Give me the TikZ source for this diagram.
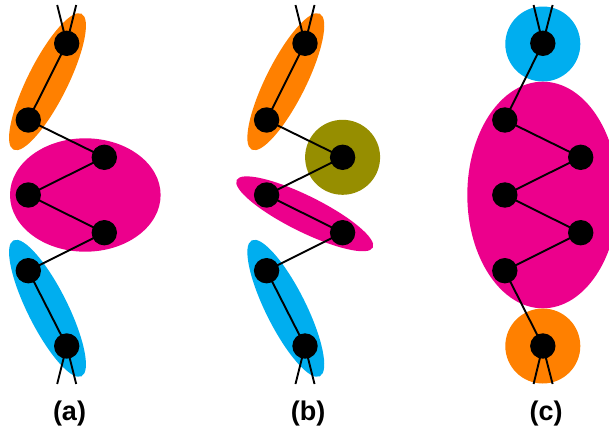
\documentclass[tikz,border=0pt]{standalone}
\usepackage{fontspec}
\setmainfont{Liberation Sans}
\usetikzlibrary{shapes.geometric}
\definecolor{myorange}{RGB}{255,128,0}
\definecolor{mypink}{RGB}{236,0,140}
\definecolor{myblue}{RGB}{0,174,239}
\definecolor{myolive}{RGB}{150,142,0}
\tikzset{
  vtx/.style={circle,fill=black,inner sep=0pt,minimum size=25.4pt},
  blob/.style={ellipse,inner sep=0pt,draw=none},
  edge/.style={line width=1.9pt,black},
  lbl/.style={font=\fontsize{27}{30}\selectfont\bfseries,inner sep=0pt}
}
\begin{document}
\begin{tikzpicture}[x=1pt,y=-1pt]
\useasboundingbox (0,0) rectangle (609,434);
\clip (0,0) rectangle (609,434);
% ---------- panel (a)
\node[blob,fill=myorange,minimum width=152pt,minimum height=40pt,rotate=63.4] (ea1) at (47.5,81.7) {};
\node[blob,fill=mypink,minimum width=150.6pt,minimum height=113.4pt] (ea2) at (85.3,195) {};
\node[blob,fill=myblue,minimum width=152pt,minimum height=40pt,rotate=-63.4] (ea3) at (47.5,308.3) {};
\coordinate (at1) at (57.2,5);
\coordinate (at2) at (76.2,5);
\coordinate (ab1) at (57.2,384);
\coordinate (ab2) at (76.2,384);
\path (66.7,43.3) coordinate (pa1) (28.3,120) coordinate (pa2) (104.3,157.3) coordinate (pa3)
      (28.3,195) coordinate (pa4) (104.3,232.7) coordinate (pa5) (28.3,270.7) coordinate (pa6)
      (66.7,346) coordinate (pa7);
\draw[edge] (at1) -- (pa1) -- (at2);
\draw[edge] (ab1) -- (pa7) -- (ab2);
\draw[edge] (pa1) -- (pa2) -- (pa3) -- (pa4) -- (pa5) -- (pa6) -- (pa7);
\foreach \i in {1,...,7} \node[vtx] (a\i) at (pa\i) {};
\node[lbl] (la) at (69.5,414) {(a)};
% ---------- panel (b)
\node[blob,fill=myorange,minimum width=152pt,minimum height=40pt,rotate=63.4] (eb1) at (285.8,81.7) {};
\node[circle,fill=myolive,inner sep=0pt,minimum size=75pt] (eb2) at (342.6,157.3) {};
\node[blob,fill=mypink,minimum width=152pt,minimum height=36pt,rotate=-26.4] (eb3) at (304.7,213.8) {};
\node[blob,fill=myblue,minimum width=152pt,minimum height=40pt,rotate=-63.4] (eb4) at (285.8,308.3) {};
\coordinate (bt1) at (295.5,5);
\coordinate (bt2) at (314.5,5);
\coordinate (bb1) at (295.5,384);
\coordinate (bb2) at (314.5,384);
\path (305,43.3) coordinate (pb1) (266.6,120) coordinate (pb2) (342.6,157.3) coordinate (pb3)
      (266.6,195) coordinate (pb4) (342.6,232.7) coordinate (pb5) (266.6,270.7) coordinate (pb6)
      (305,346) coordinate (pb7);
\draw[edge] (bt1) -- (pb1) -- (bt2);
\draw[edge] (bb1) -- (pb7) -- (bb2);
\draw[edge] (pb1) -- (pb2) -- (pb3) -- (pb4) -- (pb5) -- (pb6) -- (pb7);
\foreach \i in {1,...,7} \node[vtx] (b\i) at (pb\i) {};
\node[lbl] (lb) at (308,414) {(b)};
% ---------- panel (c)
\node[circle,fill=myblue,inner sep=0pt,minimum size=75pt] (ec1) at (542.8,44) {};
\node[blob,fill=mypink,minimum width=151pt,minimum height=226.6pt] (ec2) at (542.8,195) {};
\node[circle,fill=myorange,inner sep=0pt,minimum size=75pt] (ec3) at (542.8,346) {};
\coordinate (ct1) at (533.6,5);
\coordinate (ct2) at (552.6,5);
\coordinate (cb1) at (533.6,384);
\coordinate (cb2) at (552.6,384);
\path (542.8,43.3) coordinate (pc1) (504.8,120) coordinate (pc2) (580.7,157.3) coordinate (pc3)
      (504.8,195) coordinate (pc4) (580.7,232.7) coordinate (pc5) (504.8,270.7) coordinate (pc6)
      (542.8,346) coordinate (pc7);
\draw[edge] (ct1) -- (pc1) -- (ct2);
\draw[edge] (cb1) -- (pc7) -- (cb2);
\draw[edge] (pc1) -- (pc2) -- (pc3) -- (pc4) -- (pc5) -- (pc6) -- (pc7);
\foreach \i in {1,...,7} \node[vtx] (c\i) at (pc\i) {};
\node[lbl] (lc) at (546,414) {(c)};
\end{tikzpicture}
\end{document}
